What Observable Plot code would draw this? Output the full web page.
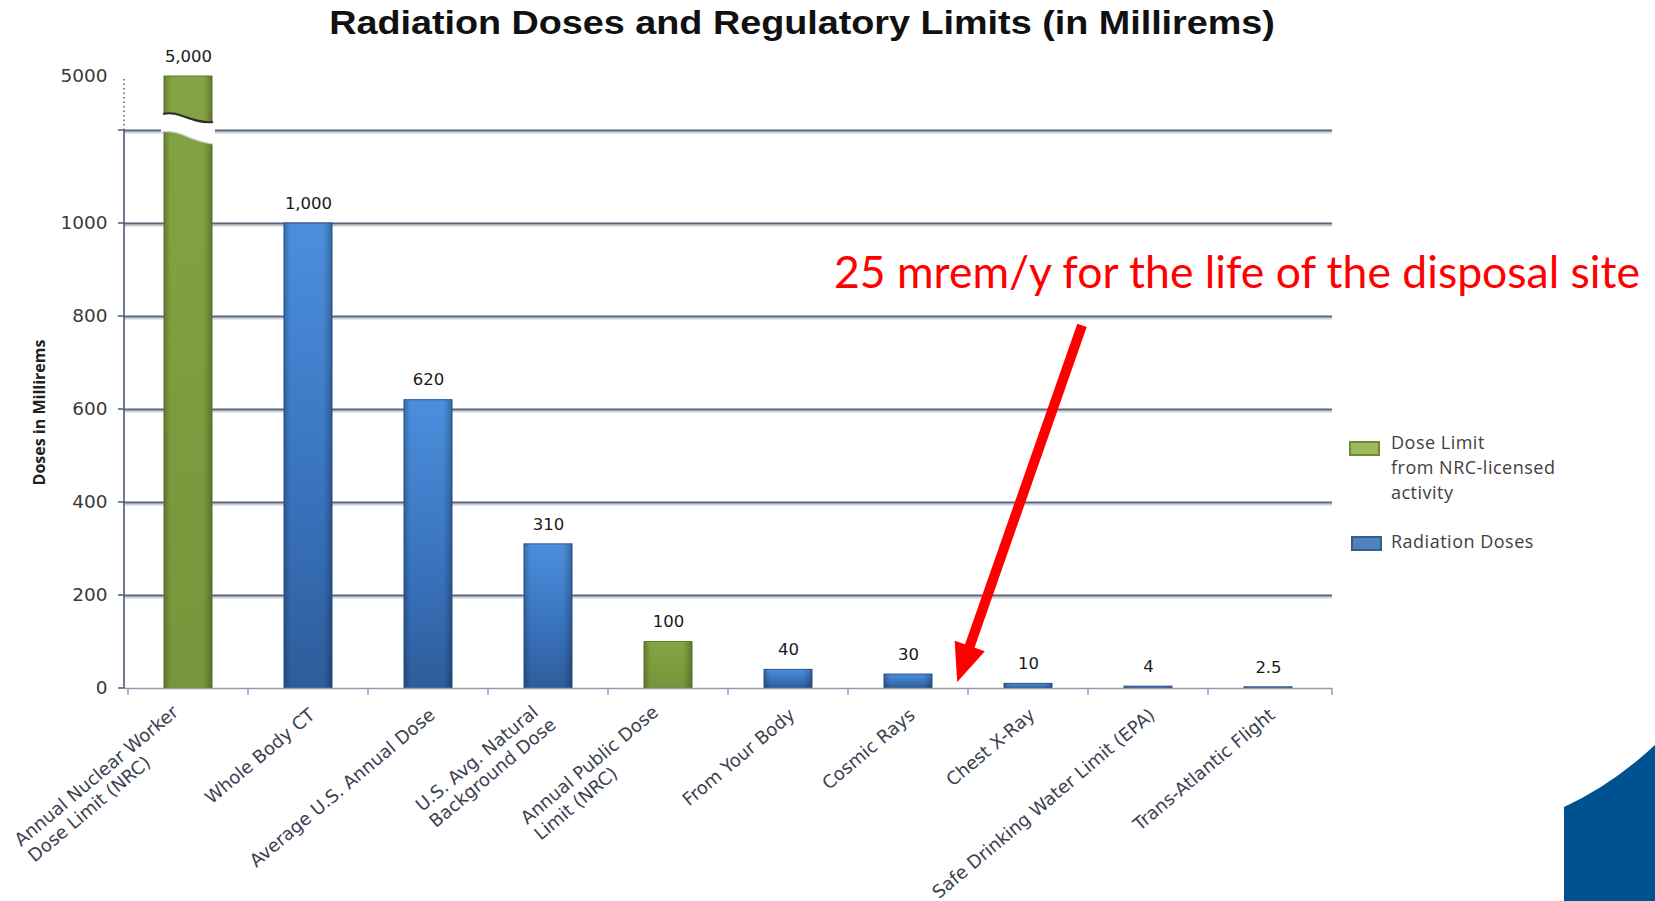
<!DOCTYPE html>
<html><head><meta charset="utf-8">
<script src="https://cdn.jsdelivr.net/npm/d3@7"></script>
<script src="https://cdn.jsdelivr.net/npm/@observablehq/plot@0.6"></script>
<style>
html,body{margin:0;padding:0;background:#fff;}
#wrap{position:relative;width:1655px;height:901px;overflow:hidden;background:#fff;}
#title{position:absolute;left:0;top:0;width:1604px;height:45px;text-align:center;font-family:'Liberation Sans',Arial,sans-serif;font-weight:bold;font-size:34px;line-height:45px;color:#111;}
#title span{display:inline-block;transform:scaleX(1.11);}
#chart{position:absolute;left:0;top:45px;}
.sw{position:absolute;box-sizing:border-box;}
.legtxt{position:absolute;font-family:'Open Sans',sans-serif;font-size:18px;letter-spacing:0.5px;line-height:25px;color:#404040;white-space:nowrap;}
#note{position:absolute;left:834px;top:246px;font-family:Lato,'Open Sans',sans-serif;font-size:44.5px;line-height:50px;color:#ff0000;white-space:nowrap;}
#corner{position:absolute;left:1564px;top:745px;}
</style></head>
<body>
<div id="wrap">
  <div id="title"></div>
  <div id="chart"></div>
  <div id="legend"></div>
  <div id="note"></div>
  <svg id="corner" width="91" height="156"><path d="M0,62 Q48,40 91,0 L91,156 L0,156 Z" fill="#00518f"/></svg>
</div>
<script>
// ---------- data ----------
const chartTitle = "Radiation Doses and Regulatory Limits (in Millirems)";
const categories = [
  "Annual Nuclear Worker\nDose Limit (NRC)",
  "Whole Body CT",
  "Average U.S. Annual Dose",
  "U.S. Avg. Natural\nBackground Dose",
  "Annual Public Dose\nLimit (NRC)",
  "From Your Body",
  "Cosmic Rays",
  "Chest X-Ray",
  "Safe Drinking Water Limit (EPA)",
  "Trans-Atlantic Flight"
];
const values = [5000, 1000, 620, 310, 100, 40, 30, 10, 4, 2.5];
const kinds = ["limit", "dose", "dose", "dose", "limit", "dose", "dose", "dose", "dose", "dose"];
const valueLabels = ["5,000", "1,000", "620", "310", "100", "40", "30", "10", "4", "2.5"];
const yTickValues = [0, 200, 400, 600, 800, 1000, 5000];
const gridValues = [200, 400, 600, 800, 1000];
const breakValue = 1200;
const topValue = 5000;
const yAxisTitle = "Doses in Millirems";
const legendKinds = ["limit", "dose"];
const legendLabels = ["Dose Limit\nfrom NRC-licensed\nactivity", "Radiation Doses"];
const noteText = "25 mrem/y for the life of the disposal site";
const arrowFrom = {category: "Chest X-Ray", value: 780};
const arrowTo = {category: "Cosmic Rays", value: 13};

const data = categories.map((c, i) => ({category: c, value: values[i], kind: kinds[i], label: valueLabels[i]}));

// ---------- html parts ----------
document.getElementById("title").innerHTML = `<span>${chartTitle}</span>`;
document.getElementById("note").textContent = noteText;
const legendPos = [{sx: 1349, sy: 441, tx: 1391, ty: 430}, {sx: 1351, sy: 536, tx: 1391, ty: 529}];
const legendStyle = {limit: {bg: "#9bbb59", bd: "#71893f"}, dose: {bg: "#4f81bd", bd: "#385d8a"}};
document.getElementById("legend").innerHTML = legendKinds.map((k, i) => {
  const p = legendPos[i], s = legendStyle[k];
  return `<div class="sw" style="left:${p.sx}px;top:${p.sy}px;width:31px;height:15px;background:${s.bg};border:2px solid ${s.bd};"></div>` +
         `<div class="legtxt" style="left:${p.tx}px;top:${p.ty}px;">${legendLabels[i].split("\n").join("<br>")}</div>`;
}).join("");

// ---------- helpers ----------
const svgG = () => d3.create("svg:g");

const defsMark = () => {
  const g = svgG();
  g.html(`<defs>
    <linearGradient id="gBlue" x1="0" y1="0" x2="0" y2="1">
      <stop offset="0" stop-color="#4b8fdc"/><stop offset="0.55" stop-color="#3a74c0"/><stop offset="1" stop-color="#2d5d9b"/>
    </linearGradient>
    <linearGradient id="gGreen" x1="0" y1="0" x2="0" y2="1">
      <stop offset="0" stop-color="#84a443"/><stop offset="1" stop-color="#77953a"/>
    </linearGradient>
    <linearGradient id="gShade" x1="0" y1="0" x2="1" y2="0">
      <stop offset="0" stop-color="#000" stop-opacity="0.22"/><stop offset="0.14" stop-color="#000" stop-opacity="0"/>
      <stop offset="0.82" stop-color="#000" stop-opacity="0"/><stop offset="1" stop-color="#000" stop-opacity="0.25"/>
    </linearGradient>
  </defs>`);
  return g.node();
};

const axesMark = (index, scales) => {
  const x = scales.x, y = scales.y;
  const g = svgG();
  const x0 = x.range()[0], x1 = x.range()[1];
  const step = x.step(), bw = x.bandwidth();
  g.append("line").attr("x1", x0).attr("x2", x0).attr("y1", y(0)).attr("y2", y(breakValue))
    .attr("stroke", "#4c5a70").attr("stroke-width", 1.6);
  g.append("line").attr("x1", x0).attr("x2", x0).attr("y1", y(breakValue)).attr("y2", y(topValue))
    .attr("stroke", "#555").attr("stroke-width", 1.4).attr("stroke-dasharray", "1.5,3");
  [...yTickValues.filter(v => v <= breakValue), breakValue].forEach(v => {
    g.append("line").attr("x1", x0 - 6).attr("x2", x0).attr("y1", y(v)).attr("y2", y(v))
      .attr("stroke", "#4c5a70").attr("stroke-width", 1.5);
  });
  categories.forEach((c) => {
    const xb = x(c) - (step - bw) / 2;
    g.append("line").attr("x1", xb).attr("x2", xb).attr("y1", y(0)).attr("y2", y(0) + 7)
      .attr("stroke", "#8e9cb0").attr("stroke-width", 1.5);
  });
  g.append("line").attr("x1", x1).attr("x2", x1).attr("y1", y(0)).attr("y2", y(0) + 7)
    .attr("stroke", "#8e9cb0").attr("stroke-width", 1.5);
  return g.node();
};

const breakMark = (index, scales) => {
  const x = scales.x, y = scales.y;
  const bw = x.bandwidth();
  const c = data.find(d => d.value > breakValue).category;
  const xl = x(c) - 3, xr = x(c) + bw + 3, w = xr - xl, yb = y(breakValue);
  const g = svgG();
  g.append("path")
    .attr("d", `M${xl},${yb - 16} C${xl + w * 0.35},${yb - 20} ${xl + w * 0.55},${yb - 6} ${xr},${yb - 8}
                L${xr},${yb + 14} C${xl + w * 0.55},${yb + 12} ${xl + w * 0.35},${yb - 1} ${xl},${yb + 2} Z`)
    .attr("fill", "#fff");
  g.append("path")
    .attr("d", `M${xl + 2},${yb - 16} C${xl + w * 0.35},${yb - 20} ${xl + w * 0.55},${yb - 6} ${xr - 2},${yb - 8}`)
    .attr("fill", "none").attr("stroke", "#2b2b2b").attr("stroke-width", 2);
  g.append("path")
    .attr("d", `M${xl + 2},${yb + 2} C${xl + w * 0.35},${yb - 1} ${xl + w * 0.55},${yb + 12} ${xr - 2},${yb + 14}`)
    .attr("fill", "none").attr("stroke", "#cfcfcf").attr("stroke-width", 1.2);
  return g.node();
};

const arrowMark = (index, scales) => {
  const x = scales.x, y = scales.y;
  const bw = x.bandwidth(), step = x.step();
  const ax = x(arrowFrom.category) + bw / 2 + 0.45 * step, ay = y(arrowFrom.value);
  const bx = x(arrowTo.category) + bw / 2 + 0.41 * step, by = y(arrowTo.value);
  const L = Math.hypot(bx - ax, by - ay), ux = (bx - ax) / L, uy = (by - ay) / L;
  const px = -uy, py = ux, headL = 38, headW = 16;
  const hx = bx - ux * headL, hy = by - uy * headL;
  const g = svgG();
  g.append("line").attr("x1", ax).attr("y1", ay).attr("x2", hx + ux * 2).attr("y2", hy + uy * 2)
    .attr("stroke", "#ff0000").attr("stroke-width", 10);
  g.append("path").attr("d", `M${bx},${by} L${hx + px * headW},${hy + py * headW} L${hx - px * headW},${hy - py * headW} Z`)
    .attr("fill", "#ff0000");
  return g.node();
};

// rotated, left-aligned category labels (one text mark per line)
const ctx = document.createElement("canvas").getContext("2d");
const labelFont = 18, labelFamily = "DejaVu Sans";
ctx.font = `${labelFont}px "${labelFamily}"`;
const angle = 40, rad = angle * Math.PI / 180;
const dir = [Math.cos(rad), -Math.sin(rad)], down = [Math.sin(rad), Math.cos(rad)];
const lh = 21, anchorDx = 4, anchorDy = 24;
const multiAlong = -11, multiAcross = -13;
const labelMarks = [];
categories.forEach(c => {
  const lines = c.split("\n");
  const n = lines.length;
  const w1 = ctx.measureText(lines[0]).width;
  lines.forEach((line, i) => {
    let a, b;
    if (n === 1) { a = -w1; b = 0; }
    else { a = multiAlong - w1; b = multiAcross + i * lh; }
    labelMarks.push(Plot.text([c], {
      x: d => d, y: () => 0, text: () => line,
      rotate: -angle, textAnchor: "start", lineAnchor: "middle",
      dx: anchorDx + dir[0] * a + down[0] * b,
      dy: anchorDy + dir[1] * a + down[1] * b,
      fontSize: labelFont, fontFamily: labelFamily, fill: "#3b4150"
    }));
  });
});

const chart = Plot.plot({
  width: 1655,
  height: 856,
  marginLeft: 124,
  marginRight: 323,
  marginTop: 29,
  marginBottom: 151,
  style: {background: "transparent", overflow: "visible"},
  x: {type: "band", domain: categories, range: [124, 1332], paddingInner: 0.6, paddingOuter: 0.3, axis: null},
  y: {type: "linear", domain: [0, breakValue, topValue], range: [643, 85, 31], axis: null},
  marks: [
    defsMark,
    Plot.ruleY([...gridValues, breakValue], {y: d => d, stroke: "#cdd2d9", strokeWidth: 2, dy: 2}),
    Plot.ruleY([...gridValues, breakValue], {y: d => d, stroke: "#58657a", strokeWidth: 2}),
    Plot.barY(data.filter(d => d.kind === "limit"), {x: "category", y: "value", fill: "url(#gGreen)", stroke: "#627f2e", strokeWidth: 1}),
    Plot.barY(data.filter(d => d.kind === "dose"), {x: "category", y: "value", fill: "url(#gBlue)", stroke: "#2b558c", strokeWidth: 1}),
    Plot.barY(data, {x: "category", y: "value", fill: "url(#gShade)"}),
    breakMark,
    Plot.ruleY([0], {y: d => d, stroke: "#8e9cb0", strokeWidth: 1.6}),
    axesMark,
    Plot.text(data, {x: "category", y: "value", text: "label", dy: -20, fontSize: 16.5, fontFamily: "DejaVu Sans", fill: "#1a1a1a"}),
    Plot.text(yTickValues, {y: d => d, text: d => String(d), frameAnchor: "left", textAnchor: "end", dx: -17, fontSize: 18.5, fontFamily: "DejaVu Sans", fill: "#3a3a3a"}),
    Plot.text([yAxisTitle], {text: d => d, frameAnchor: "left", textAnchor: "middle", rotate: -90, dx: -85, fontSize: 16, fontWeight: "bold", fontFamily: "Open Sans", fill: "#222"}),
    ...labelMarks,
    arrowMark
  ]
});
document.getElementById("chart").appendChild(chart);
</script>
</body></html>
